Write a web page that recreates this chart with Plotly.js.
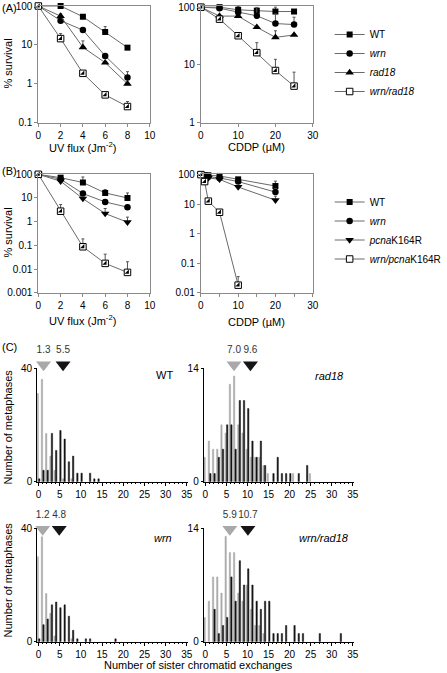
<!DOCTYPE html>
<html><head><meta charset="utf-8">
<script src="https://cdn.plot.ly/plotly-3.0.1.min.js"></script>
<style>html,body{margin:0;padding:0;background:#fff}#chart{width:447px;height:673px}</style>
</head><body><div id="chart"></div>
<script>
// ---------- Panel A : UV ----------
const uvDoseA = [0, 2, 4, 6, 8];
const uvA_WT = [100, 100, 53, 21.5, 8.5];
const uvA_WT_err = [0, 0, 0, 8, 0];
const uvA_wrn = [100, 42, 24, 5.2, 1.45];
const uvA_wrn_err = [0, 0, 0, 0, 0.6];
const uvA_rad18 = [100, 55, 8.7, 3.5, 1.0];
const uvA_rad18_err = [0, 8, 4, 0, 0];
const uvA_wrnRad18 = [100, 14.5, 1.86, 0.52, 0.26];
const uvA_wrnRad18_err = [0, 5, 0, 0, 0.09];
// ---------- Panel A : CDDP ----------
const cddpDoseA = [0, 5, 10, 15, 20, 25];
const cddpA_WT = [100, 100, 90, 87, 84, 84];
const cddpA_WT_err = [0, 0, 12, 0, 16, 0];
const cddpA_wrn = [100, 96, 82, 71, 52, 50];
const cddpA_wrn_err = [0, 0, 0, 28, 24, 17];
const cddpA_rad18 = [100, 70, 70, 45, 30, 33];
const cddpA_rad18_err = [0, 0, 0, 0, 9, 0];
const cddpA_wrnRad18 = [100, 62, 32, 16.3, 8.0, 4.3];
const cddpA_wrnRad18_err = [0, 0, 0, 8, 4.5, 3.2];
// ---------- Panel B : UV ----------
const uvDoseB = [0, 2, 4, 6, 8];
const uvB_WT = [100, 72, 45, 16.3, 10];
const uvB_WT_err = [0, 0, 32, 6.4, 6.3];
const uvB_wrn = [100, 62, 15.4, 6.8, 4.1];
const uvB_wrn_err = [0, 0, 3, 1.5, 1];
const uvB_pcna = [100, 51, 9.4, 2.2, 0.95];
const uvB_pcna_err = [0, 0, 2, 1.4, 0.6];
const uvB_wrnPcna = [100, 2.76, 0.087, 0.0173, 0.0072];
const uvB_wrnPcna_err = [0, 2.5, 0.1, 0.025, 0.013];
// ---------- Panel B : CDDP ----------
const cddpDoseB = [0, 1, 2, 5, 10, 20];
const cddpB_WT = [100, 95, 95, 90, 69, 41];
const cddpB_WT_err = [0, 0, 0, 0, 10, 19];
const cddpB_wrn = [100, 90, 85, 77, 58, 25.5];
const cddpB_wrn_err = [0, 0, 0, 0, 0, 8];
const cddpB_pcna = [100, 80, 77, 69, 38, 13.6];
const cddpB_pcna_err = [0, 0, 0, 0, 0, 5];
const cddpDoseB_wrnPcna = [0, 1, 2, 5, 10];
const cddpB_wrnPcna = [100, 58, 12.6, 5.3, 0.018];
const cddpB_wrnPcna_err = [0, 0, 0, 0, 0.017];
// ---------- Panel C : SCE histograms (gray = untreated, black = treated) ----------
const sceWT_grayX = [0, 1, 2, 3, 4, 6, 8];
const sceWT_grayN = [31, 36, 17, 9, 4, 1, 1];
const sceWT_blackX = [0, 1, 2, 3, 4, 5, 6, 7, 8, 9, 10, 12, 13, 14];
const sceWT_blackN = [1, 4, 4, 17, 11, 18, 15, 7, 9, 3, 3, 3, 1, 1];
const sceRad18_grayX = [0, 1, 2, 3, 4, 5, 6, 7, 8, 9, 10, 11, 12, 13, 14, 15, 21, 25];
const sceRad18_grayN = [3, 5, 4, 4, 7, 6, 12, 13, 7, 6, 4, 3, 3, 3, 2, 1, 1, 1];
const sceRad18_blackX = [1, 2, 3, 4, 5, 6, 7, 8, 9, 10, 11, 12, 13, 14, 16, 17, 18, 19, 20, 22, 24];
const sceRad18_blackN = [1, 1, 3, 4, 7, 7, 4, 10, 10, 9, 5, 3, 5, 2, 1, 3, 1, 1, 1, 1, 2];
const sceWrn_grayX = [0, 1, 2, 3, 4, 8];
const sceWrn_grayN = [30, 37, 17, 10, 2, 1];
const sceWrn_blackX = [0, 1, 2, 3, 4, 5, 6, 7, 8, 9, 11, 12, 18];
const sceWrn_blackN = [1, 6, 8, 13, 14, 12, 13, 9, 4, 1, 1, 1, 1];
const sceWrnRad18_grayX = [0, 1, 2, 3, 4, 5, 6, 7, 8, 9, 10, 11, 12, 13, 14];
const sceWrnRad18_grayN = [3, 5, 8, 8, 6, 13, 11, 11, 6, 5, 7, 4, 2, 2, 1];
const sceWrnRad18_blackX = [2, 3, 4, 5, 6, 7, 8, 9, 10, 11, 12, 13, 14, 15, 16, 17, 18, 19, 21, 22, 23, 27, 32];
const sceWrnRad18_blackN = [4, 1, 2, 3, 8, 5, 10, 7, 9, 7, 5, 4, 5, 5, 1, 1, 1, 2, 2, 1, 1, 1, 1];
// mean SCE values (labels) and where the arrowheads sit on the x axis
const sceMeanGray = [1.3, 7.0, 1.2, 5.9];
const sceMeanBlack = [5.5, 9.6, 4.8, 10.7];
const sceArrowGrayX = [1.2, 6.8, 1.0, 5.8];
const sceArrowBlackX = [5.8, 10.7, 4.9, 10.1];
const scePanelNames = ['WT', '<i>rad18</i>', '<i>wrn</i>', '<i>wrn/rad18</i>'];
const sceYMax = [40, 14, 40, 14];
const sceXTicks = [0, 5, 10, 15, 20, 25, 30, 35];

// ---------- layout helpers ----------
const W = 447, H = 673;
const FONT = 'Liberation Sans, Arial, sans-serif';
const px = v => v / W;
const py = v => 1 - v / H;

const LINE_COL = '#6a6a6a';
const ERR_COL = '#555';
const GRAY = '#a9a9a9';
const BLACK = '#151515';

const traces = [];
function surv(x, y, err, name, kind, xa, ya, legend, showlegend) {
  const base = {
    x: x, y: y, name: name, xaxis: xa, yaxis: ya, type: 'scatter', mode: 'lines+markers',
    line: {color: LINE_COL, width: 1}, cliponaxis: false, legend: legend, showlegend: showlegend,
    error_y: {type: 'data', symmetric: false, array: err, arrayminus: err.map(() => 0),
              color: ERR_COL, thickness: 1, width: 1.5}
  };
  if (kind === 'square') base.marker = {symbol: 'square', size: 6, color: '#000'};
  if (kind === 'circle') base.marker = {symbol: 'circle', size: 6.5, color: '#000'};
  if (kind === 'tri-up') base.marker = {symbol: 'triangle-up', size: 7.5, color: '#000'};
  if (kind === 'tri-down') base.marker = {symbol: 'triangle-down', size: 7.5, color: '#000'};
  if (kind === 'half') base.marker = {symbol: 'square', size: 6.5, color: '#fff', line: {color: '#000', width: 1}};
  traces.push(base);
  if (kind === 'half') {
    traces.push({x: x, y: y, xaxis: xa, yaxis: ya, type: 'scatter', mode: 'markers', showlegend: false,
      cliponaxis: false, hoverinfo: 'skip',
      marker: {symbol: 'triangle-se', size: 6.5 * 0.72, color: '#000'}});
  }
}

// Panel A
surv(uvDoseA, uvA_WT, uvA_WT_err, 'WT', 'square', 'x', 'y', 'legend', true);
surv(uvDoseA, uvA_wrn, uvA_wrn_err, '<i>wrn</i>', 'circle', 'x', 'y', 'legend', true);
surv(uvDoseA, uvA_rad18, uvA_rad18_err, '<i>rad18</i>', 'tri-up', 'x', 'y', 'legend', true);
surv(uvDoseA, uvA_wrnRad18, uvA_wrnRad18_err, '<i>wrn/rad18</i>', 'half', 'x', 'y', 'legend', true);
surv(cddpDoseA, cddpA_WT, cddpA_WT_err, 'WT', 'square', 'x2', 'y2', 'legend', false);
surv(cddpDoseA, cddpA_wrn, cddpA_wrn_err, 'wrn', 'circle', 'x2', 'y2', 'legend', false);
surv(cddpDoseA, cddpA_rad18, cddpA_rad18_err, 'rad18', 'tri-up', 'x2', 'y2', 'legend', false);
surv(cddpDoseA, cddpA_wrnRad18, cddpA_wrnRad18_err, 'wrn/rad18', 'half', 'x2', 'y2', 'legend', false);
// Panel B
surv(uvDoseB, uvB_WT, uvB_WT_err, 'WT', 'square', 'x3', 'y3', 'legend2', true);
surv(uvDoseB, uvB_wrn, uvB_wrn_err, '<i>wrn</i>', 'circle', 'x3', 'y3', 'legend2', true);
surv(uvDoseB, uvB_pcna, uvB_pcna_err, '<i>pcna</i>K164R', 'tri-down', 'x3', 'y3', 'legend2', true);
surv(uvDoseB, uvB_wrnPcna, uvB_wrnPcna_err, '<i>wrn/pcna</i>K164R', 'half', 'x3', 'y3', 'legend2', true);
surv(cddpDoseB, cddpB_WT, cddpB_WT_err, 'WT', 'square', 'x4', 'y4', 'legend2', false);
surv(cddpDoseB, cddpB_wrn, cddpB_wrn_err, 'wrn', 'circle', 'x4', 'y4', 'legend2', false);
surv(cddpDoseB, cddpB_pcna, cddpB_pcna_err, 'pcnaK164R', 'tri-down', 'x4', 'y4', 'legend2', false);
surv(cddpDoseB_wrnPcna, cddpB_wrnPcna, cddpB_wrnPcna_err, 'wrn/pcnaK164R', 'half', 'x4', 'y4', 'legend2', false);

// Panel C
const sceSets = [
  [sceWT_grayX, sceWT_grayN, sceWT_blackX, sceWT_blackN],
  [sceRad18_grayX, sceRad18_grayN, sceRad18_blackX, sceRad18_blackN],
  [sceWrn_grayX, sceWrn_grayN, sceWrn_blackX, sceWrn_blackN],
  [sceWrnRad18_grayX, sceWrnRad18_grayN, sceWrnRad18_blackX, sceWrnRad18_blackN]
];
sceSets.forEach((s, i) => {
  const xa = 'x' + (i + 5), ya = 'y' + (i + 5), yStrip = 'y' + (i + 9);
  traces.push({type: 'bar', x: s[0], y: s[1], xaxis: xa, yaxis: ya, showlegend: false, name: 'untreated',
    marker: {color: GRAY, line: {color: GRAY, width: 0.5}}, offsetgroup: 'g'});
  traces.push({type: 'bar', x: s[2], y: s[3], xaxis: xa, yaxis: ya, showlegend: false, name: 'treated',
    marker: {color: BLACK, line: {color: BLACK, width: 0.5}}, offsetgroup: 'b'});
  // mean arrows drawn in a thin strip axis just above each histogram
  traces.push({type: 'scatter', mode: 'markers+text', xaxis: xa, yaxis: yStrip, showlegend: false,
    x: [sceArrowGrayX[i], sceArrowBlackX[i]], y: [0.3, 0.3],
    text: [sceMeanGray[i].toFixed(1), sceMeanBlack[i].toFixed(1)], textposition: 'top center',
    textfont: {size: 10, color: '#333', family: FONT}, cliponaxis: false,
    marker: {symbol: 'triangle-down', size: 13, color: [GRAY, BLACK]}});
});

// ---------- axes ----------
const survX = {showline: true, linecolor: '#8a8a8a', linewidth: 1, mirror: true, ticks: 'outside', ticklen: 3,
  tickcolor: '#8a8a8a', tickfont: {size: 10, color: '#000', family: FONT}, showgrid: false, zeroline: false, fixedrange: true};
const survY = Object.assign({}, survX, {type: 'log'});

const domA_y = [py(122.7), py(6)];
const domB_y = [py(292.7), py(174.3)];
const domL_x = [px(40.7), px(159)];
const domR_x = [px(213.3), px(332)];

const layout = {
  width: W, height: H, margin: {l: 0, r: 0, t: 0, b: 0}, paper_bgcolor: '#fff', plot_bgcolor: 'rgba(0,0,0,0)',
  font: {family: FONT, size: 10, color: '#000'},
  barmode: 'group', bargap: 0.28, bargroupgap: 0.12,
  xaxis: Object.assign({}, survX, {domain: domL_x, range: [0, 10], tickvals: [0, 2, 4, 6, 8, 10], anchor: 'y'}),
  yaxis: Object.assign({}, survY, {domain: domA_y, range: [-1, 2], tickvals: [0.1, 1, 10, 100], ticktext: ['0.1', '1', '10', '100'], anchor: 'x'}),
  xaxis2: Object.assign({}, survX, {domain: domR_x, range: [0, 30], tickvals: [0, 10, 20, 30], anchor: 'y2'}),
  yaxis2: Object.assign({}, survY, {domain: domA_y, range: [0, 2.02], tickvals: [1, 10, 100], ticktext: ['1', '10', '100'], anchor: 'x2'}),
  xaxis3: Object.assign({}, survX, {domain: domL_x, range: [0, 10], tickvals: [0, 2, 4, 6, 8, 10], anchor: 'y3'}),
  yaxis3: Object.assign({}, survY, {domain: domB_y, range: [-3, 2], tickvals: [0.001, 0.01, 0.1, 1, 10, 100], ticktext: ['0.001', '0.01', '0.1', '1', '10', '100'], anchor: 'x3'}),
  xaxis4: Object.assign({}, survX, {domain: domR_x, range: [0, 30], tickvals: [0, 10, 20, 30], anchor: 'y4',
    minor: {tickvals: [5, 15, 25], ticks: 'outside', ticklen: 3, tickcolor: '#8a8a8a'}}),
  yaxis4: Object.assign({}, survY, {domain: domB_y, range: [-2, 2.01], tickvals: [0.01, 0.1, 1, 10, 100], ticktext: ['0.01', '0.1', '1', '10', '100'], anchor: 'x4'}),
  legend: {x: px(350), y: py(20), xanchor: 'left', yanchor: 'top', bgcolor: 'rgba(0,0,0,0)', font: {size: 10, family: FONT}, tracegroupgap: 0},
  legend2: {x: px(350), y: py(187.5), xanchor: 'left', yanchor: 'top', bgcolor: 'rgba(0,0,0,0)', font: {size: 10, family: FONT}, tracegroupgap: 0},
  annotations: [],
  showlegend: true
};

const histDomX = [[px(39.5), px(199.5)], [px(216.3), px(375.4)], [px(39.5), px(199.5)], [px(216.3), px(375.4)]];
const histRangeX = [[-0.3, 35.25], [-0.4, 35.2], [-0.3, 35.25], [-0.4, 35.2]];
const histDomY = [[py(481.7), py(368)], [py(481.7), py(368)], [py(641.7), py(528.3)], [py(641.7), py(528.3)]];
const stripDomY = [[py(372), py(348)], [py(372), py(348)], [py(536.5), py(512.5)], [py(536.5), py(512.5)]];
for (let i = 0; i < 4; i++) {
  const n = i + 5;
  layout['xaxis' + n] = {domain: histDomX[i], range: histRangeX[i], anchor: 'y' + n, tickvals: sceXTicks,
    showline: true, linecolor: '#000', linewidth: 1, ticks: 'outside', ticklen: 3, tickcolor: '#000',
    minor: {dtick: 1, ticks: 'outside', ticklen: 1.5, tickcolor: '#000'},
    tickfont: {size: 10, family: FONT}, showgrid: false, zeroline: false};
  layout['yaxis' + n] = {domain: histDomY[i], range: [0, sceYMax[i]], anchor: 'x' + n, tickvals: [0, sceYMax[i]],
    showline: true, linecolor: '#000', linewidth: 1, ticks: 'outside', ticklen: 2, tickcolor: '#000',
    tickfont: {size: 10, family: FONT}, showgrid: false, zeroline: false};
  layout['yaxis' + (i + 9)] = {domain: stripDomY[i], range: [0, 1], anchor: 'x' + n, visible: false, fixedrange: true};
}

function ann(text, x, y, opts) {
  layout.annotations.push(Object.assign({text: text, x: px(x), y: py(y), xref: 'paper', yref: 'paper',
    xanchor: 'center', yanchor: 'middle',
    showarrow: false, font: {size: 11, family: FONT, color: '#000'}}, opts || {}));
}
ann('(A)', 0, 8, {xanchor: 'left'});
ann('(B)', 0, 171, {xanchor: 'left'});
ann('(C)', 0, 347, {xanchor: 'left'});
ann('% survival', 8, 64, {textangle: -90});
ann('% survival', 8, 233, {textangle: -90});
ann('UV flux (Jm<sup>-2</sup>)', 88, 147);
ann('CDDP (µM)', 272, 147);
ann('UV flux (Jm<sup>-2</sup>)', 88, 320);
ann('CDDP (µM)', 272, 322);
ann('Number of metaphases', 8, 427, {textangle: -90});
ann('Number of metaphases', 8, 580, {textangle: -90});
ann('Number of sister chromatid exchanges', 211, 665);
ann(scePanelNames[0], 175, 375);
ann(scePanelNames[1], 350, 376);
ann(scePanelNames[2], 173, 538);
ann(scePanelNames[3], 344, 538);

Plotly.newPlot('chart', traces, layout, {staticPlot: true, displayModeBar: false});
</script></body></html>
